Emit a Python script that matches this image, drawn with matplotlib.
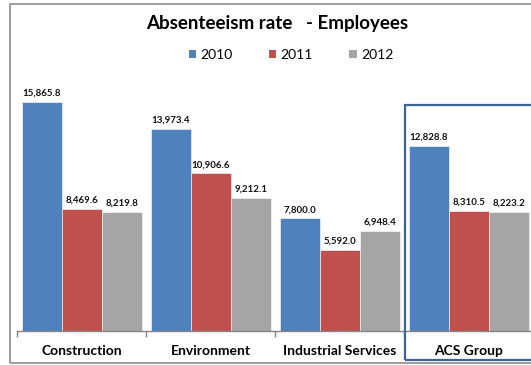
import matplotlib.pyplot as plt
import numpy as np
from matplotlib.patches import Patch, Rectangle

categories = ["Construction", "Environment", "Industrial Services", "ACS Group"]
years = ["2010", "2011", "2012"]
rate_2010 = [15865.8, 13973.4, 7800.0, 12828.8]
rate_2011 = [8469.6, 10906.6, 5592.0, 8310.5]
rate_2012 = [8219.8, 9212.1, 6948.4, 8223.2]

colors = ["#4F81BD", "#C0504D", "#A5A5A5"]

plt.rcParams["font.family"] = ["Lato", "DejaVu Sans"]

W, H = 531, 365
fig = plt.figure(figsize=(W / 100, H / 100), dpi=100)


def px_rect(x0, y0, x1, y1):
    """Figure-fraction rectangle from pixel coords (origin top-left)."""
    return [x0 / W, 1 - y1 / H, (x1 - x0) / W, (y1 - y0) / H]


# plot area runs past the right edge of the canvas
ax = fig.add_axes(px_rect(17.3, 71, 533.3, 331))
ymax = 18000

x = np.arange(len(categories)) + 0.5
bw = 0.311
for k, (vals, col) in enumerate(zip([rate_2010, rate_2011, rate_2012], colors)):
    xs = x + (k - 1) * bw
    ax.bar(xs, vals, width=bw, color=col, edgecolor="white", linewidth=0.4)
    for xi, v in zip(xs, vals):
        ax.annotate(f"{v:,.1f}", (xi, v), xytext=(0, 3), textcoords="offset points",
                    ha="center", va="bottom", fontsize=7, fontweight="bold", color="#111111")

ax.set_xlim(0, 4)
ax.set_ylim(0, ymax)
for s in ["top", "left", "right"]:
    ax.spines[s].set_visible(False)
ax.spines["bottom"].set_color("#868686")
ax.spines["bottom"].set_linewidth(1.0)
ax.set_yticks([])
ax.set_xticks([0, 1, 2, 3, 4])
ax.set_xticklabels([])
ax.tick_params(axis="x", which="major", direction="out", length=4, color="#868686", width=1.0)
ax.set_xticks(x, minor=True)
ax.set_xticklabels(categories, minor=True, fontsize=10, fontweight="bold")
ax.tick_params(axis="x", which="minor", length=0, pad=10)
ax.patch.set_visible(False)

fig.text(277 / W, 1 - 24 / H, "Absenteeism rate   - Employees", ha="center", va="center",
         fontsize=13.5, fontweight="bold")

handles = [Patch(facecolor=c, edgecolor="none") for c in colors]
fig.legend(handles, years, loc="center", bbox_to_anchor=(291 / W, 1 - 55 / H), ncol=3,
           frameon=False, fontsize=10, handlelength=0.55, handleheight=0.55,
           handletextpad=0.3, columnspacing=2.6)

# chart border and the highlight box round the group total
fig.patches.append(Rectangle((10 / W, 1 - 363 / H), 600 / W, 359 / H, transform=fig.transFigure,
                             fill=False, edgecolor="#8c8c8c", linewidth=1.2))
fig.patches.append(Rectangle((405 / W, 1 - 360 / H), 200 / W, 255 / H, transform=fig.transFigure,
                             fill=False, edgecolor="#3C6494", linewidth=1.6))

fig.savefig("out.png", dpi=100)
